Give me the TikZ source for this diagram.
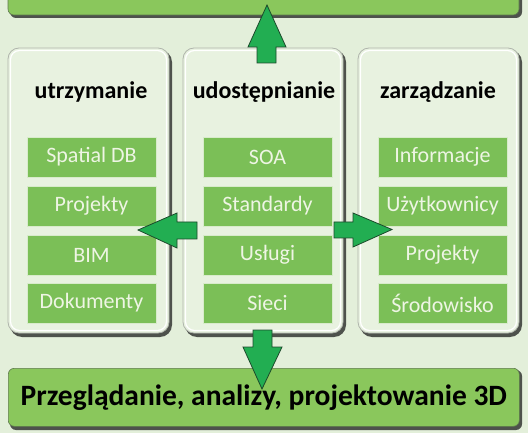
\documentclass[tikz,border=0pt]{standalone}
\usepackage{fontspec}
\setmainfont{Carlito}
\definecolor{bg}{HTML}{E3EFDA}
\definecolor{panelface}{HTML}{E8F2E0}
\definecolor{panelline}{HTML}{B0B5AC}
\definecolor{shadowc}{HTML}{4E524C}
\definecolor{itemc}{HTML}{7BBF57}
\definecolor{itemline}{HTML}{D8EBCB}
\definecolor{itemtext}{HTML}{EEF5E4}
\definecolor{arrowc}{HTML}{22AE52}
\definecolor{arrowline}{HTML}{1C4A2B}
\definecolor{barc}{HTML}{8AC75C}
\definecolor{barline}{HTML}{5E7A4C}
\tikzset{
  itembox/.style={rectangle, fill=itemc, draw=itemline, line width=0.8pt,
    minimum width=129pt, minimum height=40pt, inner sep=0pt,
    text=itemtext, font=\fontsize{22}{22}\selectfont},
  headtext/.style={font=\bfseries\fontsize{24}{24}\selectfont, text=black, inner sep=0pt},
  blockarrow/.style={fill=arrowc, draw=arrowline, line width=0.8pt, line join=miter},
}
\begin{document}
\begin{tikzpicture}[x=1pt,y=-1pt]
\fill[bg] (0,0) rectangle (528,433);
\useasboundingbox (0,0) rectangle (528,433);
% top bar (cut off)
\fill[shadowc, rounded corners=6pt] (10,-20) rectangle (522,18);
\fill[barc, draw=barline, line width=0.6pt, rounded corners=6pt] (8,-20) rectangle (519,15);
% panels
\foreach \x/\w in {8/164, 183/163, 358/164} {
  \fill[shadowc, rounded corners=12pt] ({\x+2},50) rectangle ({\x+\w},337);
  \fill[panelface, draw=panelline, line width=0.8pt, rounded corners=11pt] (\x,48) rectangle ({\x+\w-3},333);
  \draw[white, line width=1.2pt, rounded corners=9pt] ({\x+2.5},50.5) rectangle ({\x+\w-5.5},330.5);
}
% headers
\node[headtext] (hL) at (91,92) {utrzymanie};
\node[headtext] (hM) at (264,92) {udostępnianie};
\node[headtext] (hR) at (438,92) {zarządzanie};
% items
\node[itembox] (L1) at (91.5,157) {Spatial DB};
\node[itembox] (L2) at (91.5,206) {Projekty};
\node[itembox] (L3) at (91.5,255) {BIM};
\node[itembox] (L4) at (91.5,303) {Dokumenty};
\node[itembox] (M1) at (267.5,157) {SOA};
\node[itembox] (M2) at (267.5,206) {Standardy};
\node[itembox] (M3) at (267.5,255) {Usługi};
\node[itembox] (M4) at (267.5,303) {Sieci};
\node[itembox] (R1) at (442.5,157) {Informacje};
\node[itembox] (R2) at (442.5,206) {Użytkownicy};
\node[itembox] (R3) at (442.5,255) {Projekty};
\node[itembox] (R4) at (442.5,303) {Środowisko};
% bottom bar
\fill[shadowc, rounded corners=6pt] (10,370) rectangle (522,430);
\node[fill=barc, draw=barline, line width=0.6pt, rounded corners=6pt,
  minimum width=511pt, minimum height=58pt, inner sep=0pt, anchor=north west,
  font=\bfseries\fontsize{29.5}{29.5}\selectfont] (bottom) at (8,368)
  {Przeglądanie, analizy, projektowanie 3D};
% block arrows
\draw[blockarrow] (257,63) -- (257,47) -- (248,47) -- (267,5) -- (286,47) -- (276,47) -- (276,63) -- cycle;
\draw[blockarrow] (197,222) -- (177,222) -- (177,213) -- (138,230) -- (177,248) -- (177,239) -- (197,239) -- cycle;
\draw[blockarrow] (334,222) -- (353,222) -- (353,213) -- (392,229.5) -- (353,247) -- (353,238) -- (334,238) -- cycle;
\draw[blockarrow] (253,330) -- (272,330) -- (272,347) -- (282,347) -- (262,389) -- (243,347) -- (253,347) -- cycle;
\end{tikzpicture}
\end{document}
